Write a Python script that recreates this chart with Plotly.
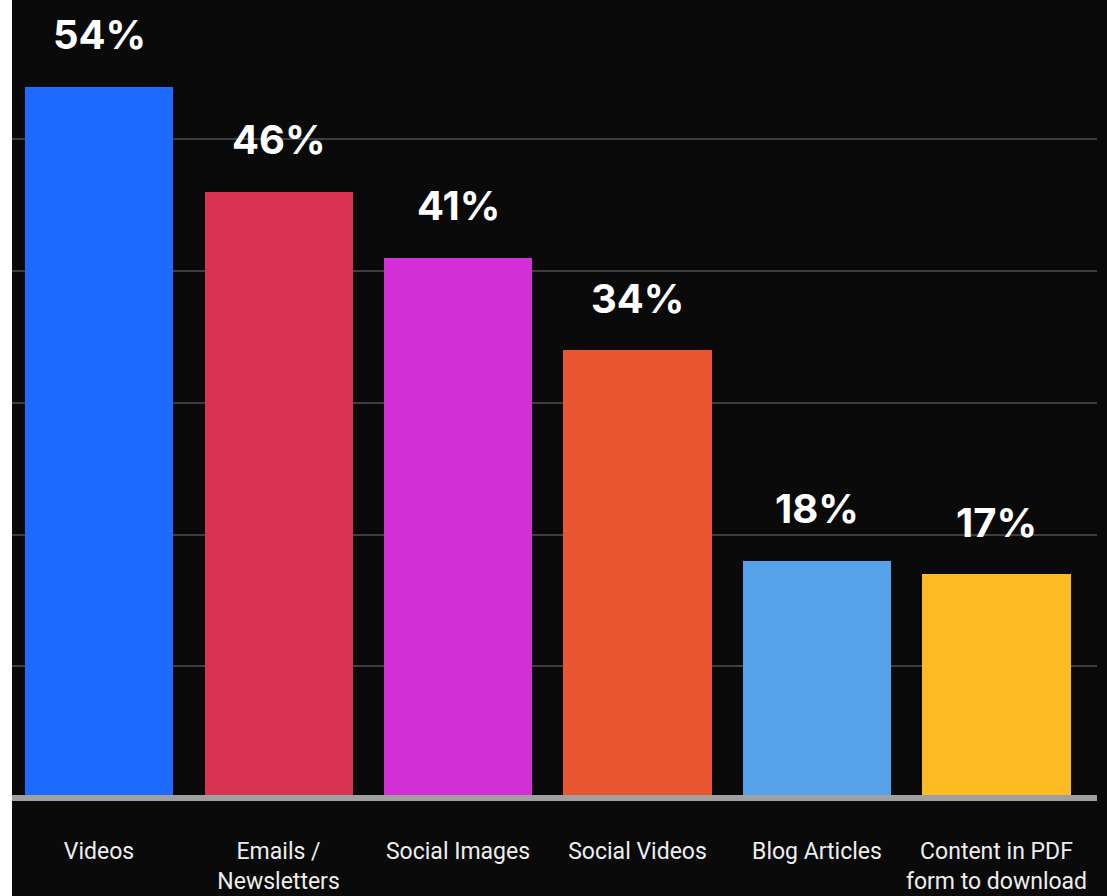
import plotly.graph_objects as go

categories = ["Videos", "Emails /<br>Newsletters", "Social Images", "Social Videos",
              "Blog Articles", "Content in PDF<br>form to download"]
values = [54, 46, 41, 34, 18, 17]
labels = ["54%", "46%", "41%", "34%", "18%", "17%"]
colors = ["#1F6BFF", "#D83352", "#D22FD6", "#E8552F", "#55A2EB", "#FDBD22"]

x_idx = list(range(len(categories)))

W, H = 1107, 896
x_left, x_right = 12, 1097
base_px = 98  # baseline distance from bottom

fig = go.Figure()
fig.add_trace(go.Bar(
    x=x_idx, y=values, marker=dict(color=colors, line=dict(width=0)),
    width=0.825, hoverinfo="skip",
))

for i, (v, t) in enumerate(zip(values, labels)):
    fig.add_annotation(x=i, y=v, text=t, showarrow=False, yanchor="middle",
                       yshift=52, font=dict(family="Inter", size=40, color="white", weight="bold"))

fig.update_layout(
    width=W, height=H,
    margin=dict(l=0, r=0, t=0, b=0, pad=0),
    paper_bgcolor="#0a0a0a", plot_bgcolor="#0a0a0a",
    showlegend=False, bargap=0,
    xaxis=dict(domain=[x_left / W, x_right / W],
               range=[-0.485, 5.56], tickmode="array", tickvals=x_idx, ticktext=categories,
               showgrid=False, zeroline=False, showline=False, ticks="",
               ticklabelstandoff=37,
               tickfont=dict(family="Roboto", size=23, color="#eeeeee")),
    yaxis=dict(domain=[base_px / H, 1], range=[0, 60.57], tickvals=[10, 20, 30, 40, 50],
               showticklabels=False,
               showgrid=True, gridcolor="#3e3e3e", gridwidth=2, zeroline=False, showline=False),
    shapes=[
        dict(type="line", xref="paper", yref="paper", x0=x_left / W, x1=x_right / W,
             y0=base_px / H, y1=base_px / H,
             line=dict(color="#a0a0a0", width=6), layer="above"),
        dict(type="rect", xref="paper", yref="paper", x0=0, x1=x_left / W, y0=0, y1=1,
             fillcolor="#ffffff", opacity=1, line=dict(width=0, color="#ffffff"),
             layer="above"),
    ],
)

fig.write_html("out.html")
